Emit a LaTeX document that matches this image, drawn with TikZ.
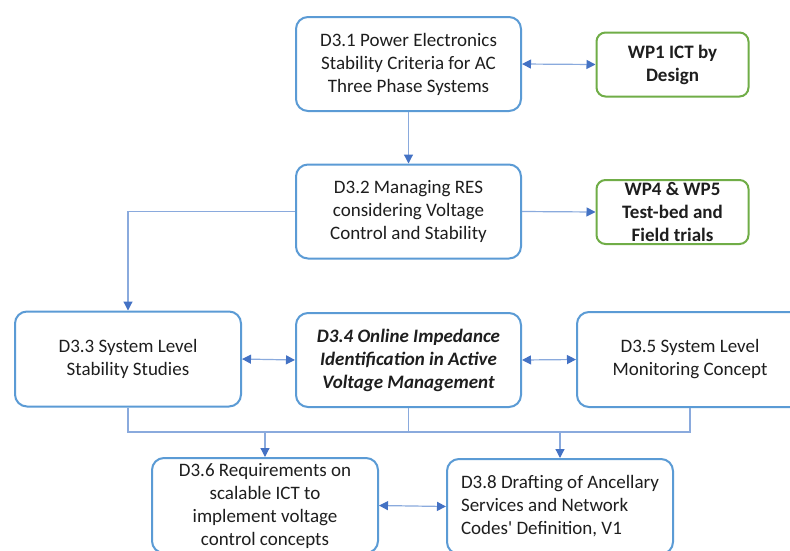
\documentclass[tikz,border=0pt]{standalone}
\usepackage{fontspec}
\setmainfont{Carlito}
\usetikzlibrary{arrows.meta}
\definecolor{boxblue}{HTML}{5B9BD5}
\definecolor{boxgreen}{HTML}{70AD47}
\definecolor{linkblue}{HTML}{8AAADD}
\definecolor{tipblue}{HTML}{4472C4}
\definecolor{txt}{HTML}{1E1E1E}
\tikzset{
  deliv/.style={draw=boxblue, line width=2pt, rounded corners=12pt, fill=white,
    minimum width=225pt, minimum height=94pt, inner sep=0pt, align=center,
    text=txt, font=\fontsize{19pt}{23pt}\selectfont},
  wpbox/.style={draw=boxgreen, line width=2pt, rounded corners=9pt, fill=white,
    minimum width=152pt, minimum height=64pt, inner sep=0pt, align=center,
    text=txt, font=\fontsize{19pt}{23pt}\selectfont\bfseries},
  conn/.style={draw=linkblue, line width=1.2pt,
    arrows={-Triangle[length=9pt,width=9pt,color=tipblue]}},
  biconn/.style={draw=linkblue, line width=1.2pt,
    arrows={Triangle[length=9pt,width=9pt,color=tipblue]-Triangle[length=9pt,width=9pt,color=tipblue]}},
  plain/.style={draw=linkblue, line width=1.2pt}
}
\begin{document}
\begin{tikzpicture}[x=1pt,y=-1pt]
\useasboundingbox (0,0) rectangle (790,550);
\clip (0,0) rectangle (790,550);
\fill[white] (0,0) rectangle (790,550);

% deliverables and work packages
\node[deliv] (d31) at (408.5,64) {D3.1 Power Electronics\\Stability Criteria for AC\\Three Phase Systems};
\node[wpbox] (wp1) at (672.5,64.5) {WP1 ICT by\\Design};
\node[deliv] (d32) at (408.5,211.5) {D3.2 Managing RES\\considering Voltage\\Control and Stability};
\node[wpbox] (wp45) at (672.5,212) {WP4 \& WP5\\Test-bed and\\Field trials};
\node[deliv, minimum width=226pt, minimum height=95pt] (d33) at (128,359) {D3.3 System Level\\Stability Studies};
\node[deliv, font=\fontsize{19pt}{23pt}\selectfont\bfseries\itshape] (d34) at (408.5,360) {D3.4 Online Impedance\\Identification in Active\\Voltage Management};
\node[deliv, minimum width=226pt, minimum height=95pt] (d35) at (690,359.5) {D3.5 System Level\\Monitoring Concept};
\node[deliv, minimum width=226pt, minimum height=95pt] (d36) at (265,505.5) {D3.6 Requirements on\\scalable ICT to\\implement voltage\\control concepts};
\node[deliv, minimum width=226pt, minimum height=95pt, align=left] (d38) at (560,506.5) {D3.8 Drafting of Ancellary\\Services and Network\\Codes\textquotesingle{} Definition, V1};

% links between the top rows
\draw[biconn] (d31.east) -- (wp1.west);
\draw[conn] (d31.south) -- (d32.north);
\draw[conn] (d32.east) -- (wp45.west);
\draw[conn] (d32.west) -| (d33.north);
\draw[biconn] (d33.east) -- (d34.west);
\draw[biconn] (d34.east) -- (d35.west);

% collector bus under the third row
\coordinate (bus) at (0,432);
\draw[plain] (d33.south) -- (d33.south |- bus) -- (d35.south |- bus) -- (d35.south);
\draw[plain] (d34.south) -- (d34.south |- bus);
\draw[conn] (d36.north |- bus) -- (d36.north);
\draw[conn] (d38.north |- bus) -- (d38.north);
\draw[biconn] (d36.east) -- (d38.west);
\end{tikzpicture}
\end{document}
